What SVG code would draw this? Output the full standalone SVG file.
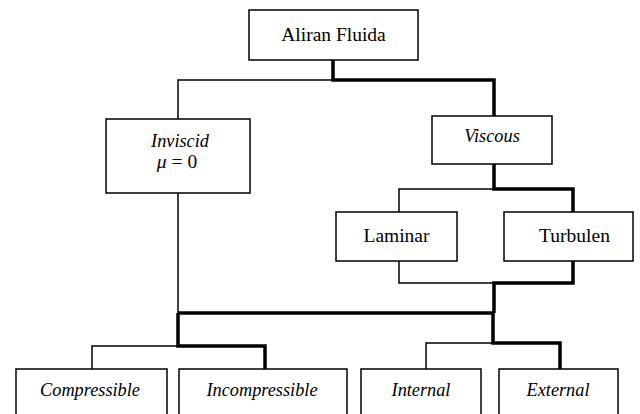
<svg xmlns="http://www.w3.org/2000/svg" width="640" height="414" viewBox="0 0 640 414">
<style>
.box{fill:#fff;stroke:#000;stroke-width:1.5}
text{font-family:"Liberation Serif","Times New Roman",serif;font-size:19.5px;fill:#000;text-anchor:middle}
.i{font-style:italic;font-size:18.3px}
.thin{fill:none;stroke:#000;stroke-width:1.5}
.thick{fill:none;stroke:#000;stroke-width:3.5}
</style>
<rect width="640" height="414" fill="#fff"/>
<g id="connectors">
<polyline class="thin" points="333,80 178,80 178,119"/>
<polyline class="thick" points="333,60 333,80 494,80 494,116"/>
<polyline class="thin" points="178,193 178,313"/>
<polyline class="thin" points="494,189 399,189 399,212"/>
<polyline class="thick" points="494,164 494,189 573,189 573,212"/>
<polyline class="thin" points="399,261 399,283 494,283"/>
<polyline class="thick" points="573,261 573,283 494,283 494,313"/>
<polyline class="thick" points="178,313 493,313"/>
<polyline class="thin" points="178,346 92,346 92,369"/>
<polyline class="thick" points="178,313 178,346 265,346 265,369"/>
<polyline class="thin" points="493,343 426,343 426,369"/>
<polyline class="thick" points="493,313 493,343 560,343 560,369"/>
</g>
<g id="aliran-fluida"><rect class="box" x="249" y="10" width="169" height="50"/><text x="333.5" y="40.5" font-size="21">Aliran Fluida</text></g>
<g id="inviscid"><rect class="box" x="106" y="119" width="144" height="74"/><text class="i" x="180" y="147">Inviscid</text><text x="177" y="168" font-size="19"><tspan font-style="italic">μ</tspan> = 0</text></g>
<g id="viscous"><rect class="box" x="432" y="116" width="120" height="48"/><text class="i" x="492" y="142">Viscous</text></g>
<g id="laminar"><rect class="box" x="336" y="212" width="121" height="49"/><text x="396.5" y="241.5">Laminar</text></g>
<g id="turbulen"><rect class="box" x="504" y="212" width="129" height="49"/><text x="574.5" y="241.5">Turbulen</text></g>
<g id="compressible"><rect class="box" x="16" y="369" width="151" height="60"/><text class="i" x="90" y="396">Compressible</text></g>
<g id="incompressible"><rect class="box" x="179" y="369" width="168" height="60"/><text class="i" x="262" y="396">Incompressible</text></g>
<g id="internal"><rect class="box" x="361" y="369" width="120" height="60"/><text class="i" x="421" y="396">Internal</text></g>
<g id="external"><rect class="box" x="499" y="369" width="119" height="60"/><text class="i" x="558" y="396">External</text></g>
</svg>
